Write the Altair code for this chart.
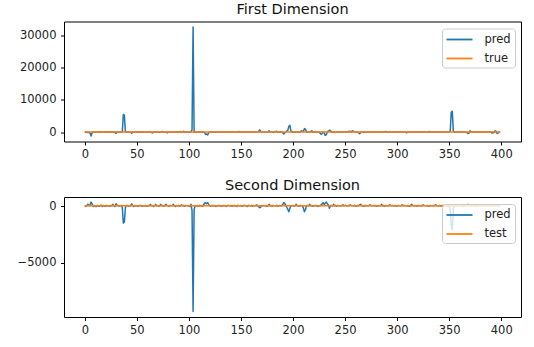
import altair as alt
import pandas as pd

pred_first = [
    50, -80, 30, -150, 20, -300, -1200, -200, 40, 60, -30, 80, 20, -50, 100, 30, -40, 60, 10, -20,
    40, 70, -60, 30, 90, -20, 50, 10, -100, 30, -400, 60, 20, -50, 80, 40, -30, 5500, 5200, 100,
    -50, 30, 60, -20, 40, -300, 20, 50, -10, 80, 30, -40, 60, 20, -30, 100, 40, -20, 10, 60,
    -30, 50, 20, 80, -40, -250, 30, 60, -20, 40, 10, 70, -30, 50, 200, 20, -40, 60, 30, -200,
    40, -20, 60, 30, 80, -30, 50, 20, 150, -40, 60, 30, 200, -20, 40, 250, 30, -50, 60, 20,
    40, -30, 100, 800, 32600, -50, 30, 60, -20, 40, 80, 20, -40, 60, 30, -100, -700, -600, -900, -200,
    50, 30, -20, 60, 40, 10, -30, 80, 20, 50, -40, 30, 60, 20, -10, 40, 70, -20, 30, 50,
    20, -30, 60, 40, 10, 80, -20, 50, 200, 30, -40, 60, 20, 50, -10, 40, 30, 60, -20, 40,
    30, 50, -20, 60, 40, 10, 80, 200, 700, 300, -30, 40, 60, 20, 50, -20, 30, 400, 40, 60,
    20, -30, 50, 40, 300, 10, 60, -20, 40, 30, -100, -600, -200, 50, 300, 600, 1800, 2100, 300, 60,
    30, -20, 50, 40, 60, 20, -30, 50, 400, 300, 200, 1100, 900, -20, 60, 30, 50, 200, 400, 40,
    30, -40, 60, 20, 50, 10, -300, -700, -400, 100, -300, -1000, -800, 200, 300, 600, 400, 30, -50, 60,
    20, 40, -30, 60, 30, 50, 10, 40, -20, 60, 30, 50, 20, 40, 300, 200, 60, 400, 300, 50,
    -30, 40, 60, -200, -500, 20, 50, 30, -20, 60, 40, 10, 50, 30, -20, 60, 40, 20, 50, 30,
    -20, 60, 40, 10, 50, 30, -20, 60, 40, 200, 50, 30, -20, 60, 40, 10, 50, 30, -20, 60,
    40, 20, 50, 30, -20, 60, 40, 10, 50, -200, 30, -20, 60, 40, 10, 50, 30, -20, 60, 40,
    20, 50, 30, -20, 60, 40, 10, 50, 30, -20, 60, 200, 40, 10, 50, 30, -20, 60, 40, 20,
    50, 30, -20, 60, 40, 10, 50, 30, -20, 60, 60, 300, 6200, 6500, 200, 20, 50, 30, -20, 60,
    40, 10, 50, 30, -20, 60, 40, -100, -400, -300, 400, 200, 50, 30, -20, 60, 40, 10, 50, 30,
    -20, 60, 40, 20, 50, 30, -20, 60, 40, 10, 50, -300, 30, -200, 400, 300, -400, -300, 60, 40,
]

true_first = [
    30, 45, 20, 60, 35, 50, 25, 40, 55, 30, 45, 20, 35, 50, 40, 25, 60, 30, 45, 35,
    50, 20, 40, 55, 30, 45, 25, 60, 35, 40, 50, 30, 20, 45, 55, 35, 40, 25, 50, 30,
    45, 60, 30, 35, 20, 50, 40, 55, 25, 45, 30, 35, 60, 40, 20, 50, 30, 45, 55, 25,
    40, 35, 50, 30, 45, 20, 60, 35, 40, 25, 50, 45, 30, 55, 35, 20, 40, 50, 30, 45,
    25, 60, 35, 40, 50, 30, 45, 20, 55, 35, 40, 25, 50, 30, 45, 60, 35, 20, 40, 50,
    30, 45, 55, 25, 40, 35, 50, 30, 20, 45, 60, 35, 40, 25, 50, 30, 45, 55, 35, 20,
    40, 50, 30, 45, 25, 60, 35, 40, 50, 30, 20, 45, 55, 35, 40, 25, 50, 30, 45, 60,
    35, 20, 40, 50, 30, 45, 25, 55, 35, 40, 50, 30, 20, 45, 60, 35, 40, 25, 50, 30,
    45, 55, 35, 20, 40, 50, 30, 45, 25, 60, 35, 40, 50, 30, 20, 45, 55, 35, 40, 25,
    50, 30, 45, 60, 35, 20, 40, 50, 30, 45, 25, 55, 35, 40, 50, 30, 20, 45, 60, 35,
    40, 25, 50, 30, 45, 55, 35, 20, 40, 50, 30, 45, 25, 60, 35, 40, 50, 30, 20, 45,
    55, 35, 40, 25, 50, 30, 45, 60, 35, 20, 40, 50, 30, 45, 25, 55, 35, 40, 50, 30,
    20, 45, 60, 35, 40, 25, 50, 30, 45, 55, 35, 20, 40, 50, 30, 45, 25, 60, 35, 40,
    50, 30, 20, 45, 55, 35, 40, 25, 50, 30, 45, 60, 35, 20, 40, 50, 30, 45, 25, 55,
    35, 40, 50, 30, 20, 45, 60, 35, 40, 25, 50, 30, 45, 55, 35, 20, 40, 50, 30, 45,
    25, 60, 35, 40, 50, 30, 20, 45, 55, 35, 40, 25, 50, 30, 45, 60, 35, 20, 40, 50,
    30, 45, 25, 55, 35, 40, 50, 30, 20, 45, 60, 35, 40, 25, 50, 30, 45, 55, 35, 20,
    40, 50, 30, 45, 25, 60, 35, 40, 50, 30, 20, 45, 55, 35, 40, 25, 50, 30, 45, 60,
    35, 20, 40, 50, 30, 45, 25, 55, 35, 40, 50, 30, 20, 45, 60, 35, 40, 25, 50, 30,
    45, 55, 35, 20, 40, 50, 30, 45, 25, 60, 35, 40, 50, 30, 20, 45, 55, 35, 40, 25,
]

pred_second = [
    40, -20, 60, 150, 30, 100, 350, 200, -30, 50, 20, -40, 60, 30, -20, 50, 80, -30, 40, 20,
    -30, 60, 20, 40, -20, 50, 30, 150, 20, -40, 200, 30, 60, -20, 40, 20, -100, -1500, -1400, -100,
    30, 60, -20, 40, 20, 200, 30, -40, 60, 20, 40, -20, 50, 30, 60, -20, 40, 20, 50, 30,
    -20, 60, 40, 150, 20, 50, -30, 40, 150, 20, 60, -20, 40, 150, 30, 50, -20, 60, 150, 40,
    20, -30, 60, 40, 20, 150, 30, -40, 50, 20, 60, -20, 40, 100, 30, 50, -20, 60, 40, 20,
    50, -30, 150, -400, -9300, -300, 40, 20, 60, -20, 40, 30, 50, -20, 100, 250, 300, 200, 300, 150,
    40, -20, 60, 30, 50, 20, -30, 40, 60, 20, 50, -20, 40, 30, 60, 20, -30, 50, 40, 20,
    60, -20, 40, 30, 50, 20, -30, 60, 40, 20, 50, -20, 40, 30, 60, 20, -30, 50, 40, 20,
    60, -20, 40, 30, 50, 100, 20, -50, -150, -100, 40, 30, 60, 20, 50, -20, 40, 150, 30, 50,
    -20, 60, 40, 20, 50, 30, -20, 60, 40, 20, 100, 300, 250, 50, -100, -300, -500, -200, 40, 20,
    60, -20, 40, 150, 30, 50, -20, 60, 40, 20, -200, -500, -300, 40, 60, 20, 150, 30, 50, -20,
    40, 60, 20, 50, -30, 40, 60, 100, 200, 300, 150, 250, 350, 200, 100, -200, 50, 40, 20, 150,
    30, 50, -20, 60, 40, 20, 50, 30, 100, 20, 60, 40, 20, 50, 30, 100, 60, 40, 20, 50,
    30, -20, 60, 40, 100, 150, 20, 50, 30, -20, 60, 40, 20, 50, 100, 30, 60, 40, 20, 50,
    30, -20, 60, 40, 20, 150, 30, 50, -20, 60, 40, 20, 50, 100, 30, 60, 40, 20, 50, 30,
    -20, 60, 40, 20, 50, 100, 30, 60, 40, 20, 50, 30, -20, 60, 150, 40, 20, 50, 30, -20,
    60, 40, 20, 50, 30, 100, 60, 40, 20, 50, 30, -20, 60, 40, 20, 50, 30, 100, 60, 40,
    20, 50, 30, -20, 60, 40, 20, 50, 30, -20, 60, -300, -1800, -2100, -200, 40, 20, 50, 30, 60,
    40, 20, 50, 30, -20, 60, 40, 100, 150, 20, 50, 30, 60, 40, 20, 50, 30, -20, 60, 40,
    20, 50, 30, 100, 60, 40, 20, 50, 30, 60, 40, 20, 50, 30, 100, 60, 40, 20, 50, 30,
]

test_second = [
    20, 35, 10, 40, 25, 30, 15, 45, 20, 35, 25, 10, 40, 30, 20, 35, 15, 45, 25, 30,
    10, 40, 20, 35, 25, 15, 45, 30, 20, 35, 10, 40, 25, 30, 15, 45, 20, 35, 25, 10,
    40, 30, 20, 35, 15, 45, 25, 30, 10, 40, 20, 35, 25, 15, 45, 30, 20, 35, 10, 40,
    25, 30, 15, 45, 20, 35, 25, 10, 40, 30, 20, 35, 15, 45, 25, 30, 10, 40, 20, 35,
    25, 15, 45, 30, 20, 35, 10, 40, 25, 30, 15, 45, 20, 35, 25, 10, 40, 30, 20, 35,
    15, 45, 25, 30, 10, 40, 20, 35, 25, 15, 45, 30, 20, 35, 10, 40, 25, 30, 15, 45,
    20, 35, 25, 10, 40, 30, 20, 35, 15, 45, 25, 30, 10, 40, 20, 35, 25, 15, 45, 30,
    20, 35, 10, 40, 25, 30, 15, 45, 20, 35, 25, 10, 40, 30, 20, 35, 15, 45, 25, 30,
    10, 40, 20, 35, 25, 15, 45, 30, 20, 35, 10, 40, 25, 30, 15, 45, 20, 35, 25, 10,
    40, 30, 20, 35, 15, 45, 25, 30, 10, 40, 20, 35, 25, 15, 45, 30, 20, 35, 10, 40,
    25, 30, 15, 45, 20, 35, 25, 10, 40, 30, 20, 35, 15, 45, 25, 30, 10, 40, 20, 35,
    25, 15, 45, 30, 20, 35, 10, 40, 25, 30, 15, 45, 20, 35, 25, 10, 40, 30, 20, 35,
    15, 45, 25, 30, 10, 40, 20, 35, 25, 15, 45, 30, 20, 35, 10, 40, 25, 30, 15, 45,
    20, 35, 25, 10, 40, 30, 20, 35, 15, 45, 25, 30, 10, 40, 20, 35, 25, 15, 45, 30,
    20, 35, 10, 40, 25, 30, 15, 45, 20, 35, 25, 10, 40, 30, 20, 35, 15, 45, 25, 30,
    10, 40, 20, 35, 25, 15, 45, 30, 20, 35, 10, 40, 25, 30, 15, 45, 20, 35, 25, 10,
    40, 30, 20, 35, 15, 45, 25, 30, 10, 40, 20, 35, 25, 15, 45, 30, 20, 35, 10, 40,
    25, 30, 15, 45, 20, 35, 25, 10, 40, 30, 20, 35, 15, 45, 25, 30, 10, 40, 20, 35,
    25, 15, 45, 30, 20, 35, 10, 40, 25, 30, 15, 45, 20, 35, 25, 10, 40, 30, 20, 35,
    15, 45, 25, 30, 10, 40, 20, 35, 25, 15, 45, 30, 20, 35, 10, 40, 25, 30, 15, 45,
]

x_ticks = [0, 50, 100, 150, 200, 250, 300, 350, 400]
y_ticks_first = [0, 10000, 20000, 30000]
y_ticks_second = [-5000, 0]

BLUE = "#1f77b4"
ORANGE = "#ff7f0e"
FONT = "DejaVu Sans"


def panel(title, pred, ref, ref_name, ydomain, yticks):
    df = pd.DataFrame({
        "i": list(range(len(pred))) + list(range(len(ref))),
        "v": pred + ref,
        "s": ["pred"] * len(pred) + [ref_name] * len(ref),
    })
    color = alt.Color(
        "s:N",
        scale=alt.Scale(domain=["pred", ref_name], range=[BLUE, ORANGE]),
        legend=alt.Legend(title=None),
    )
    base = alt.Chart(df).mark_line(strokeWidth=1.5, strokeJoin="round").encode(
        x=alt.X("i:Q", scale=alt.Scale(domain=[-20, 419], nice=False, zero=False),
                axis=alt.Axis(values=x_ticks, title=None, format="d", labelPadding=3.5)),
        y=alt.Y("v:Q", scale=alt.Scale(domain=ydomain, nice=False, zero=False),
                axis=alt.Axis(values=yticks, title=None, format="d", labelPadding=4.5)),
        color=color,
    )
    p = base.transform_filter(alt.datum.s == "pred")
    r = base.transform_filter(alt.datum.s == ref_name)
    return alt.layer(p, r).properties(
        width=457, height=120,
        title=alt.TitleParams(title, fontSize=14.5, font=FONT, fontWeight=400,
                              offset=4, color="#111"),
    )


top = panel("First Dimension", pred_first, true_first, "true", [-2900, 34300], y_ticks_first)
bottom = panel("Second Dimension", pred_second, test_second, "test", [-9780, 800], y_ticks_second)

chart = alt.vconcat(top, bottom, spacing=16.5).resolve_scale(
    color="independent"
).resolve_legend(color="independent").properties(
    padding={"left": 16, "top": 1.5, "right": 10, "bottom": 5}
).configure_view(
    stroke="#000", strokeWidth=1
).configure_title(
    fontWeight=400
).configure_axis(
    grid=False, domain=False, tickColor="#000", tickSize=3.5, tickWidth=1,
    labelFont=FONT, labelFontSize=11.5, labelColor="#222",
).configure_legend(
    orient="top-right", offset=6.5, padding=3.5, strokeColor="#cccccc",
    fillColor="rgba(255,255,255,0.8)", cornerRadius=3,
    labelFont=FONT, labelFontSize=11.5, labelColor="#222", labelOffset=24,
    symbolType="M-1,0H3", symbolSize=169, symbolStrokeWidth=1.8, rowPadding=6,
)

chart.save("out.html", embed_options={"renderer": "svg", "actions": False})
